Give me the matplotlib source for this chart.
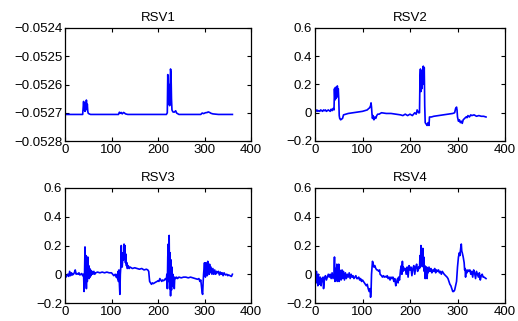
import matplotlib
matplotlib.use("Agg")
import matplotlib.pyplot as plt
import numpy as np

# (sample index, value) pairs
rsv1_pts = [
    (0, -0.052706), (38, -0.052706), (40, -0.052660), (41, -0.052690), (42, -0.052670),
    (43, -0.052695), (44, -0.052665), (45, -0.052690), (46, -0.052655), (47, -0.052685),
    (48, -0.052670), (49, -0.052695), (50, -0.052702), (52, -0.052704), (55, -0.052706),
    (115, -0.052706), (117, -0.052698), (119, -0.052702), (121, -0.052699), (123, -0.052704),
    (126, -0.052699), (128, -0.052701), (130, -0.052704), (135, -0.052706), (218, -0.052706),
    (220, -0.052700), (221, -0.052565), (222, -0.052640), (223, -0.052670), (224, -0.052600),
    (225, -0.052675), (226, -0.052610), (227, -0.052545), (228, -0.052560), (229, -0.052650),
    (230, -0.052690), (232, -0.052697), (235, -0.052698), (238, -0.052693), (240, -0.052701),
    (245, -0.052706), (292, -0.052706), (295, -0.052701), (298, -0.052703), (302, -0.052700),
    (306, -0.052699), (308, -0.052697), (311, -0.052699), (314, -0.052702), (318, -0.052704),
    (330, -0.052706), (360, -0.052706),
]

rsv2_pts = [
    (0, 0.02), (2, 0.01), (4, 0.02), (6, 0.01), (8, 0.015), (10, 0.01), (12, 0.02),
    (14, 0.015), (16, 0.01), (18, 0.02), (20, 0.015), (22, 0.02), (24, 0.01), (26, 0.015),
    (28, 0.02), (30, 0.015), (32, 0.01), (34, 0.025), (36, 0.015), (38, 0.03), (40, 0.02),
    (41, 0.17), (42, 0.09), (43, 0.18), (44, 0.10), (45, 0.15), (46, 0.11), (47, 0.19),
    (48, 0.12), (49, 0.17), (50, 0.10), (51, -0.02), (52, -0.04), (54, -0.05), (56, -0.045),
    (58, -0.04), (60, -0.015), (65, -0.01), (70, -0.005), (80, 0.0), (90, 0.005), (100, 0.01),
    (105, 0.015), (110, 0.02), (113, 0.03), (115, 0.035), (117, 0.05), (118, 0.07), (119, 0.04),
    (120, -0.01), (121, -0.04), (122, -0.02), (124, -0.05), (126, -0.03), (128, -0.04),
    (130, -0.02), (132, -0.01), (135, -0.01), (140, 0.0), (150, -0.005), (160, -0.005),
    (170, -0.01), (180, -0.015), (185, -0.02), (190, -0.01), (195, -0.02), (200, -0.01),
    (205, -0.02), (210, 0.0), (213, -0.01), (215, 0.02), (218, 0.0), (220, 0.0), (221, 0.25),
    (222, 0.31), (223, 0.15), (224, 0.28), (225, 0.17), (226, 0.30), (227, 0.20), (228, 0.33),
    (229, 0.22), (230, 0.32), (231, 0.05), (232, -0.07), (234, -0.08), (236, -0.09),
    (238, -0.07), (240, -0.09), (241, -0.03), (245, -0.03), (250, -0.025), (260, -0.02),
    (270, -0.015), (280, -0.01), (290, -0.005), (294, 0.0), (296, 0.03), (298, 0.04),
    (299, 0.02), (300, -0.03), (302, -0.06), (304, -0.05), (306, -0.07), (308, -0.06),
    (310, -0.075), (312, -0.05), (315, -0.04), (318, -0.03), (320, -0.035), (322, -0.02),
    (325, -0.03), (328, -0.015), (330, -0.02), (335, -0.015), (340, -0.025), (345, -0.02),
    (350, -0.025), (355, -0.025), (360, -0.03),
]

rsv3_pts = [
    (0, 0.0), (2, -0.02), (4, -0.01), (6, 0.0), (8, -0.015), (10, 0.02), (12, -0.01),
    (14, 0.01), (16, -0.005), (18, 0.0), (20, 0.01), (22, 0.03), (24, 0.0), (26, 0.005),
    (28, 0.0), (30, 0.01), (32, -0.005), (34, 0.0), (36, 0.005), (38, -0.01), (40, 0.0),
    (41, -0.12), (42, 0.0), (43, 0.19), (44, -0.05), (45, 0.13), (46, -0.10), (47, 0.10),
    (48, -0.05), (49, 0.12), (50, -0.02), (51, 0.06), (52, -0.03), (53, 0.04), (54, -0.02),
    (55, 0.03), (56, -0.01), (58, 0.02), (60, 0.0), (62, 0.02), (64, 0.0), (66, 0.01),
    (70, 0.015), (75, 0.01), (80, 0.015), (85, 0.01), (90, 0.015), (95, 0.01), (100, 0.01),
    (105, -0.01), (108, 0.0), (110, -0.02), (112, 0.0), (113, -0.03), (114, 0.02),
    (115, -0.05), (116, 0.03), (117, -0.07), (118, -0.14), (119, 0.0), (120, 0.05),
    (121, 0.20), (122, 0.08), (123, 0.05), (125, 0.15), (126, 0.10), (127, 0.21), (128, 0.12),
    (129, 0.20), (130, 0.08), (131, 0.14), (132, 0.06), (133, 0.08), (134, 0.04), (136, 0.06),
    (138, 0.04), (140, 0.05), (145, 0.04), (150, 0.045), (155, 0.04), (160, 0.035),
    (165, 0.04), (170, 0.03), (175, 0.035), (178, 0.03), (180, 0.02), (182, -0.05),
    (184, -0.06), (186, -0.07), (188, -0.06), (190, -0.065), (195, -0.055), (198, -0.05),
    (200, -0.045), (202, -0.05), (204, -0.03), (206, -0.04), (208, -0.05), (210, -0.04),
    (212, -0.045), (214, -0.04), (216, -0.03), (218, -0.04), (219, 0.0), (220, -0.10),
    (221, 0.12), (222, 0.21), (223, -0.05), (224, 0.27), (225, -0.10), (226, 0.15),
    (227, -0.15), (228, 0.10), (229, -0.11), (230, 0.05), (231, -0.08), (232, 0.0),
    (233, -0.05), (234, -0.03), (235, -0.10), (236, -0.02), (238, -0.03), (240, -0.02),
    (242, -0.03), (245, -0.02), (250, -0.025), (255, -0.02), (260, -0.02), (265, -0.025),
    (270, -0.02), (275, -0.025), (280, -0.03), (285, -0.035), (288, -0.03), (290, -0.05),
    (292, -0.04), (294, -0.10), (295, -0.13), (296, -0.14), (297, -0.06), (298, 0.0),
    (299, 0.04), (300, 0.08), (301, 0.02), (302, -0.02), (303, 0.08), (304, 0.0), (305, 0.05),
    (306, -0.01), (307, 0.09), (308, 0.01), (309, 0.06), (310, 0.0), (311, 0.07), (312, 0.01),
    (314, 0.05), (316, 0.0), (318, 0.04), (320, 0.0), (322, 0.03), (324, 0.0), (326, 0.02),
    (328, 0.01), (330, 0.02), (332, -0.005), (334, 0.015), (336, 0.0), (338, 0.01),
    (340, -0.01), (342, 0.01), (345, -0.005), (348, 0.0), (350, -0.01), (352, -0.005),
    (355, -0.01), (358, -0.015), (360, 0.0),
]

rsv4_pts = [
    (0, -0.05), (1, 0.0), (2, -0.05), (3, 0.02), (4, -0.06), (5, -0.02), (6, -0.08), (7, 0.0),
    (8, -0.04), (9, -0.03), (10, -0.07), (11, -0.02), (12, -0.03), (13, -0.08), (14, -0.03),
    (15, -0.05), (17, -0.02), (18, -0.10), (20, -0.03), (22, -0.01), (24, -0.04), (26, -0.02),
    (28, 0.0), (30, -0.02), (32, 0.0), (34, -0.03), (36, 0.01), (38, -0.03), (40, 0.0),
    (41, 0.12), (42, -0.05), (43, 0.04), (44, -0.03), (45, 0.0), (46, 0.07), (47, -0.05),
    (48, 0.06), (49, -0.03), (50, 0.07), (51, -0.05), (52, 0.03), (53, -0.02), (54, 0.02),
    (55, -0.04), (56, 0.0), (57, 0.03), (58, -0.03), (60, 0.02), (62, -0.04), (64, 0.01),
    (66, -0.03), (68, 0.0), (70, -0.02), (72, 0.01), (74, -0.03), (76, 0.0), (78, -0.02),
    (80, -0.01), (82, -0.03), (84, -0.02), (86, -0.01), (88, -0.03), (90, -0.03), (92, -0.02),
    (94, -0.04), (96, -0.03), (98, -0.05), (100, -0.04), (102, -0.05), (104, -0.06),
    (106, -0.07), (108, -0.08), (110, -0.07), (112, -0.10), (114, -0.12), (116, -0.10),
    (117, -0.16), (118, -0.12), (119, 0.0), (120, 0.05), (121, 0.09), (122, 0.08), (124, 0.05),
    (126, 0.06), (128, 0.04), (130, 0.03), (132, 0.03), (134, 0.02), (136, 0.03), (137, 0.0),
    (140, -0.01), (142, -0.02), (144, -0.01), (146, -0.02), (148, -0.015), (150, -0.02),
    (152, -0.01), (154, -0.03), (156, -0.02), (158, -0.04), (160, -0.02), (162, -0.03),
    (164, -0.02), (166, -0.05), (168, -0.03), (170, -0.08), (172, -0.05), (174, -0.03),
    (175, -0.06), (176, -0.02), (178, -0.04), (180, 0.03), (182, 0.06), (183, 0.0),
    (184, 0.09), (185, 0.02), (186, 0.05), (188, 0.03), (190, 0.04), (192, 0.0), (194, 0.05),
    (196, -0.02), (198, 0.06), (200, 0.03), (202, 0.05), (204, -0.01), (206, 0.04),
    (208, 0.06), (210, 0.0), (212, 0.05), (214, 0.07), (216, 0.02), (218, 0.05), (220, 0.04),
    (221, 0.13), (222, 0.05), (223, 0.20), (224, 0.06), (225, 0.17), (226, 0.10), (227, 0.18),
    (228, 0.05), (229, 0.12), (230, 0.02), (231, 0.06), (232, -0.03), (233, 0.05), (234, 0.0),
    (235, 0.05), (236, -0.03), (237, 0.04), (238, 0.01), (240, 0.05), (242, 0.02), (244, 0.04),
    (246, 0.01), (248, 0.03), (250, 0.02), (252, 0.04), (254, 0.01), (256, 0.03), (258, 0.02),
    (260, 0.03), (262, 0.01), (264, 0.02), (266, 0.0), (268, 0.02), (270, 0.01), (272, 0.0),
    (275, -0.01), (278, -0.02), (280, -0.03), (282, -0.05), (284, -0.07), (286, -0.08),
    (288, -0.10), (290, -0.12), (292, -0.12), (294, -0.11), (296, -0.08), (298, -0.05),
    (300, 0.05), (302, 0.12), (304, 0.15), (305, 0.13), (306, 0.16), (307, 0.19), (308, 0.21),
    (309, 0.16), (310, 0.15), (312, 0.12), (314, 0.08), (315, 0.03), (316, 0.04), (317, -0.02),
    (318, 0.03), (320, 0.01), (322, 0.03), (324, 0.02), (326, 0.03), (328, 0.0), (330, 0.02),
    (332, -0.02), (334, 0.03), (336, 0.01), (338, -0.03), (340, 0.02), (342, 0.0),
    (344, -0.02), (346, 0.01), (348, -0.04), (350, -0.01), (352, 0.0), (354, -0.02),
    (356, -0.02), (358, -0.025), (360, -0.03),
]

titles = ["RSV1", "RSV2", "RSV3", "RSV4"]
series = [rsv1_pts, rsv2_pts, rsv3_pts, rsv4_pts]
xticks = [0, 100, 200, 300, 400]
rsv1_yticks = [-0.0528, -0.0527, -0.0526, -0.0525, -0.0524]
rsv1_ylabels = ["\u22120.0528", "\u22120.0527", "\u22120.0526", "\u22120.0525", "\u22120.0524"]
rsv_yticks = [-0.2, 0, 0.2, 0.4, 0.6]
rsv_ylabels = ["\u22120.2", "0", "0.2", "0.4", "0.6"]

plt.rcParams['font.family'] = ['Liberation Sans', 'DejaVu Sans']
plt.rcParams['font.size'] = 9.5

W, H = 518, 321
fig = plt.figure(figsize=(W / 100, H / 100), dpi=100)

# axes boxes in pixels: left, top, right, bottom
boxes = [(65, 28, 251, 141), (315, 28, 505, 141), (65, 188, 251, 303), (315, 188, 505, 303)]

for box, pts, title in zip(boxes, series, titles):
    l, t, r, b = box
    ax = fig.add_axes([l / W, 1 - b / H, (r - l) / W, (b - t) / H])
    x, y = zip(*pts)
    ax.plot(x, y, color='#0000ff', lw=1.2)
    ax.set_xlim(0, 400)
    ax.set_xticks(xticks)
    if title == "RSV1":
        ax.set_ylim(-0.0528, -0.0524)
        ax.set_yticks(rsv1_yticks)
        ax.set_yticklabels(rsv1_ylabels)
    else:
        ax.set_ylim(-0.2, 0.6)
        ax.set_yticks(rsv_yticks)
        ax.set_yticklabels(rsv_ylabels)
    ax.tick_params(direction='in', length=3, width=0.8, top=True, right=True, pad=2)
    for s in ax.spines.values():
        s.set_linewidth(0.9)
    ax.set_title(title, fontsize=9.5, pad=5)

fig.savefig("out.png", dpi=100)
